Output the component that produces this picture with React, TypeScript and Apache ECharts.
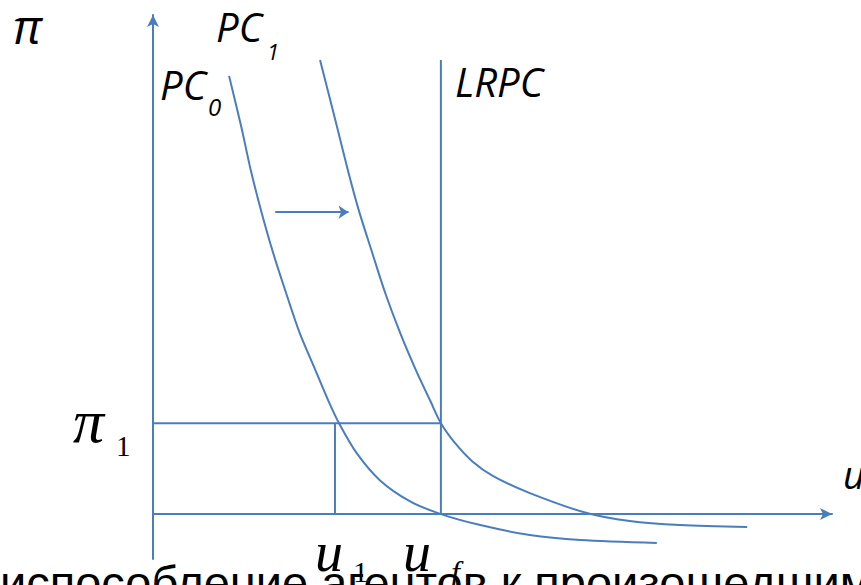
import React, { useEffect, useRef } from "react";
import * as echarts from "echarts";

// Abstract units: u (unemployment) on x, π (inflation) on y
const pc0U = [1.12, 1.3, 1.44, 1.59, 1.77, 1.96, 2.16, 2.39, 2.58, 2.74, 3.0, 3.34, 3.78, 4.24, 4.82, 5.55, 6.29, 7.42];
const pc0Pi = [8.78, 7.76, 6.89, 6.09, 5.23, 4.43, 3.63, 2.89, 2.28, 1.82, 1.22, 0.68, 0.26, 0.0, -0.22, -0.42, -0.52, -0.58];
const pc1U = [2.46, 2.71, 2.87, 3.03, 3.23, 3.42, 3.64, 3.87, 4.08, 4.24, 4.45, 4.7, 5.01, 5.55, 6.39, 7.02, 7.76, 8.75];
const pc1Pi = [9.1, 7.76, 6.89, 6.09, 5.23, 4.43, 3.63, 2.89, 2.28, 1.82, 1.42, 1.06, 0.76, 0.42, 0.02, -0.14, -0.22, -0.26];
const uNatural = 4.24; // u_f
const u1 = 2.68;
const pi1 = 1.82;
const lrpcTop = 9.1;
const shiftArrowU = [1.8, 2.88];
const shiftArrowPi = 6.05;

const BLUE = "#4a7ebb";

export default function App() {
  const ref = useRef<HTMLDivElement>(null);
  useEffect(() => {
    document.body.style.margin = "0";
    const chart = echarts.init(ref.current!, undefined, { renderer: "svg" });
    const line = (data: number[][]) => ({
      type: "line",
      data,
      symbol: "none",
      clip: false,
      silent: true,
      lineStyle: { color: BLUE, width: 2 },
    });
    const sans = '"Open Sans"';
    const serif = '"Liberation Serif"';
    const txt = (text: string, x: number, y: number, font: string) => ({
      type: "text",
      x,
      y,
      silent: true,
      style: { text, font, fill: "#000", verticalAlign: "middle", align: "left" },
    });
    chart.setOption({
      animation: false,
      grid: { left: 153, right: 29, top: 15, bottom: 26 },
      xAxis: {
        type: "value",
        min: 0,
        max: 10,
        axisLine: { onZero: true, symbol: ["none", "arrow"], symbolSize: [9, 12], lineStyle: { color: BLUE, width: 2 } },
        axisTick: { show: false },
        axisLabel: { show: false },
        splitLine: { show: false },
      },
      yAxis: {
        type: "value",
        min: -0.9,
        max: 10,
        axisLine: { onZero: true, symbol: ["none", "arrow"], symbolSize: [9, 12], lineStyle: { color: BLUE, width: 2 } },
        axisTick: { show: false },
        axisLabel: { show: false },
        splitLine: { show: false },
      },
      series: [
        { ...line(pc0U.map((u, i) => [u, pc0Pi[i]])), smooth: 0.3 },
        { ...line(pc1U.map((u, i) => [u, pc1Pi[i]])), smooth: 0.3 },
        line([[uNatural, 0], [uNatural, lrpcTop]]),
        line([[0, pi1], [uNatural, pi1]]),
        line([[u1, 0], [u1, pi1]]),
        {
          type: "lines",
          coordinateSystem: "cartesian2d",
          silent: true,
          symbol: ["none", "arrow"],
          symbolSize: [8, 10],
          lineStyle: { color: BLUE, width: 2, opacity: 1 },
          data: [{ coords: [[shiftArrowU[0], shiftArrowPi], [shiftArrowU[1], shiftArrowPi]] }],
        },
      ],
      graphic: [
        txt("π", 13, 25, `italic 48px ${sans}`),
        txt("PC", 216, 26, `italic 40px ${sans}`),
        txt("1", 267, 51, `italic 22px ${sans}`),
        txt("PC", 160, 84, `italic 40px ${sans}`),
        txt("0", 208, 106, `italic 24px ${sans}`),
        txt("LRPC", 455, 81, `italic 40px ${sans}`),
        txt("u", 843, 474, `italic 38px ${sans}`),
        txt("π", 73, 421, `italic 62px ${serif}`),
        txt("1", 116, 446, `29px ${serif}`),
        txt("u", 315, 552, `italic 56px ${serif}`),
        txt("1", 353, 571, `30px ${serif}`),
        txt("u", 403, 552, `italic 56px ${serif}`),
        txt("f", 451, 572, `italic 32px ${serif}`),
        txt("Приспособление агентов к произошедшим изменениям", -60, 582, `47px "Liberation Sans"`),
      ],
    });
    return () => chart.dispose();
  }, []);
  return <div ref={ref} style={{ width: 861, height: 585 }} />;
}
